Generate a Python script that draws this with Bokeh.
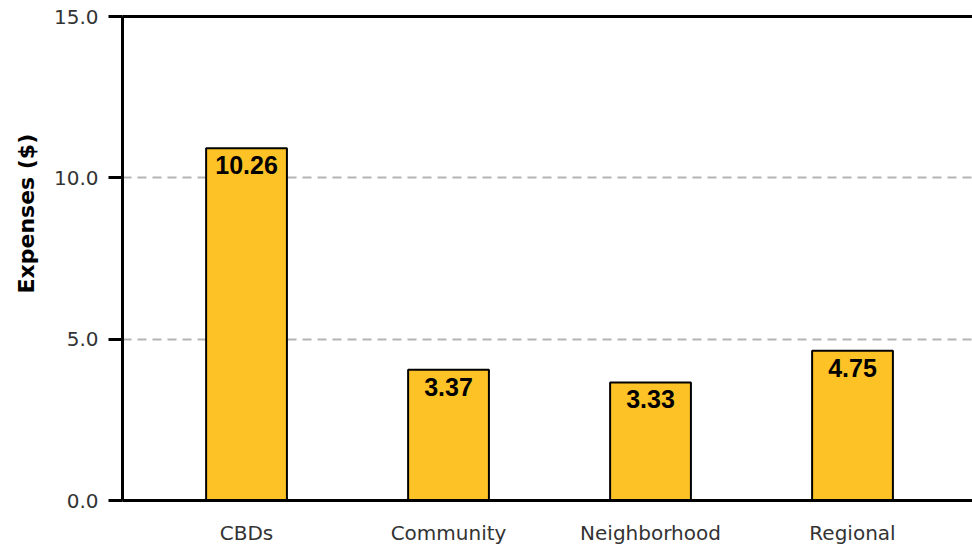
from bokeh.plotting import figure
from bokeh.models import Range1d, FixedTicker, LinearAxis, Title, ColumnDataSource, NumeralTickFormatter
from bokeh.core.properties import value
from bokeh.embed import file_html
from bokeh.resources import INLINE

categories = ["CBDs", "Community", "Neighborhood", "Regional"]
bar_values = [10.92, 4.05, 3.66, 4.64]
label_values = [10.26, 3.37, 3.33, 4.75]
y_ticks = [0, 5, 10, 15]

xs = list(range(len(categories)))
src = ColumnDataSource(dict(
    x=xs, top=bar_values, label=[f"{v:.2f}" for v in label_values],
))

p = figure(frame_width=850, frame_height=484, output_backend="svg", toolbar_location=None,
           x_range=Range1d(-0.614, 3.594), y_range=Range1d(0, 15),
           min_border_left=122, min_border_right=0, min_border_top=16, min_border_bottom=50,
           x_axis_location=None, y_axis_location=None)
p.outline_line_color = None
p.background_fill_color = "white"
p.border_fill_color = "white"

# axes
yax = LinearAxis(ticker=FixedTicker(ticks=y_ticks), formatter=NumeralTickFormatter(format="0.0"))
yax.axis_line_width = 3
yax.axis_line_color = "black"
yax.major_tick_line_width = 3
yax.major_tick_line_color = "black"
yax.major_tick_out = 14
yax.major_tick_in = 0
yax.minor_tick_line_color = None
yax.major_label_standoff = 10
yax.major_label_text_font = "DejaVu Sans"
yax.major_label_text_font_size = "20px"
yax.major_label_text_color = "#333333"
p.add_layout(yax, "left")

xax = LinearAxis(ticker=FixedTicker(ticks=xs),
                 major_label_overrides={i: c for i, c in zip(xs, categories)})
xax.axis_line_width = 3
xax.axis_line_color = "black"
xax.major_tick_line_color = None
xax.minor_tick_line_color = None
xax.major_label_standoff = 14
xax.major_label_text_font = "DejaVu Sans"
xax.major_label_text_font_size = "20px"
xax.major_label_text_color = "#333333"
p.add_layout(xax, "below")

top_ax = LinearAxis(ticker=FixedTicker(ticks=[]))
top_ax.axis_line_width = 3
top_ax.axis_line_color = "black"
top_ax.major_tick_line_color = None
top_ax.minor_tick_line_color = None
top_ax.major_label_text_font_size = "0px"
p.add_layout(top_ax, "above")

p.add_layout(Title(text="Expenses ($)", align="left", offset=207, standoff=23,
                   text_font="DejaVu Sans", text_font_size="22px",
                   text_font_style="bold", text_color="black"), "left")

p.xgrid.visible = False
p.ygrid.ticker = FixedTicker(ticks=y_ticks)
p.ygrid.grid_line_color = "#b4b4b4"
p.ygrid.grid_line_width = 2
p.ygrid.grid_line_dash = "9 6"

p.vbar(x="x", top="top", width=0.4, bottom=0, source=src,
       fill_color="#FDC326", line_color="black", line_width=2)

p.text(x="x", y="top", text="label", source=src, text_align="center",
       text_baseline="top", y_offset=8,
       text_font=value("Liberation Sans"), text_font_style="bold",
       text_font_size="25px", text_color="black")

open("out.html", "w").write(file_html(p, INLINE))
